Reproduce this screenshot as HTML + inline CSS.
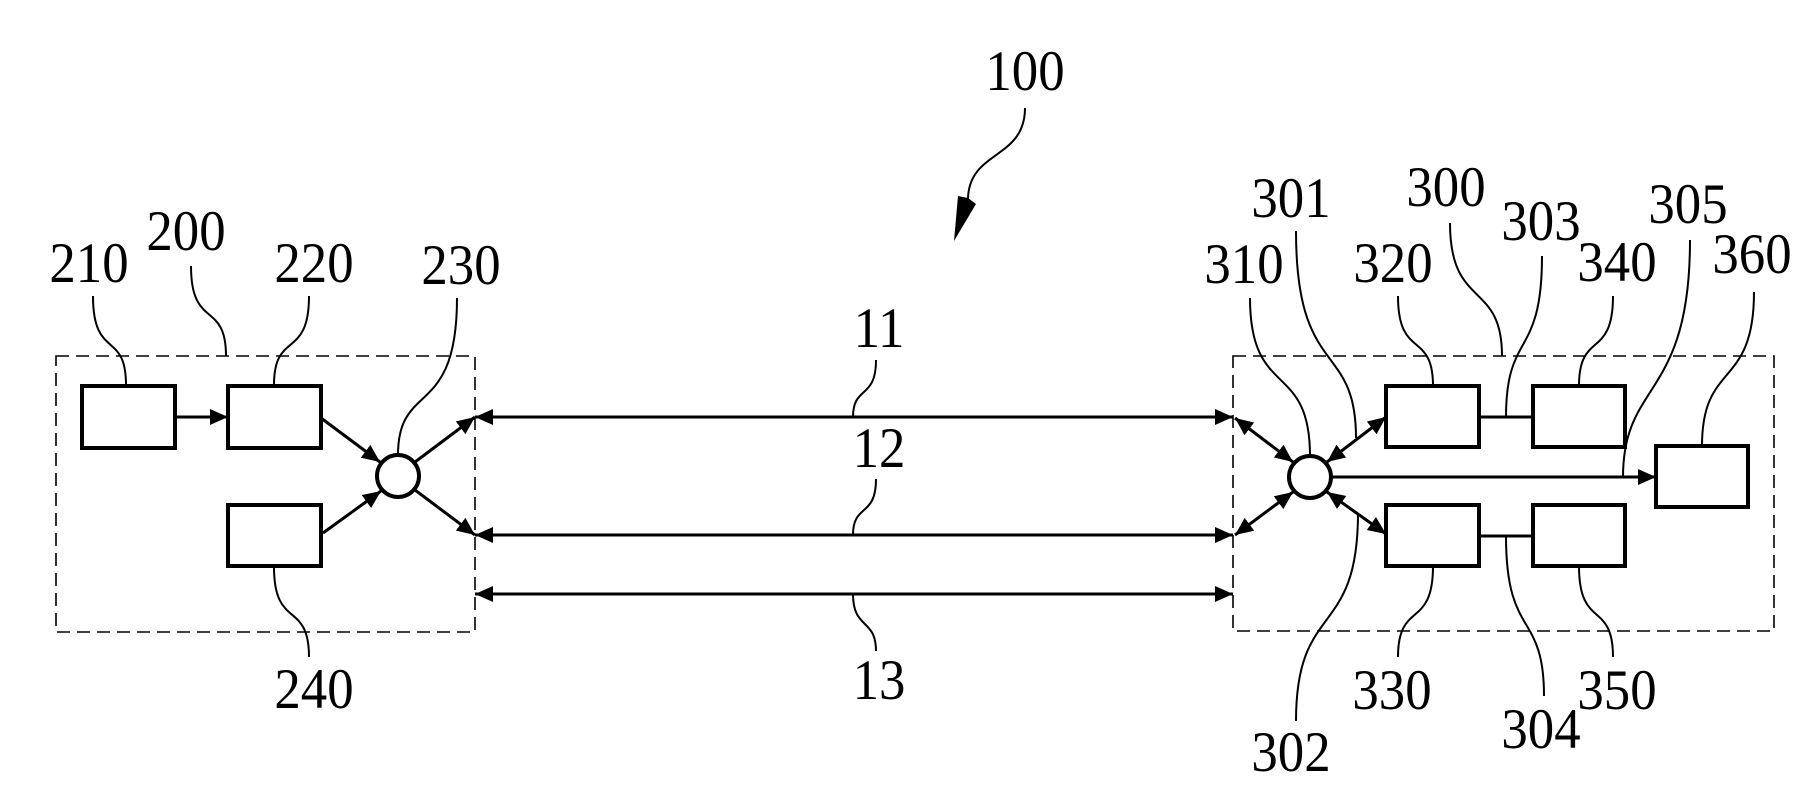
<!DOCTYPE html>
<html><head><meta charset="utf-8"><style>
html,body{margin:0;padding:0;background:#fff;}
svg{display:block;}
text{font-family:"Liberation Serif",serif;font-size:48px;fill:#000;}
</style></head><body>
<svg width="1803" height="804" viewBox="0 0 1803 804" xmlns="http://www.w3.org/2000/svg">
<defs>
<marker id="a" markerUnits="userSpaceOnUse" markerWidth="20" markerHeight="16" refX="18" refY="8" orient="auto-start-reverse">
<path d="M0,0 L18,8 L0,16 Z" fill="#000"/></marker>
</defs>
<g fill="none" stroke="#000">
<rect x="56" y="356" width="419" height="276" stroke-width="1.6" stroke-dasharray="13,7"/>
<rect x="1233" y="356" width="541" height="275" stroke-width="1.6" stroke-dasharray="13,7"/>
<g stroke-width="4">
<rect x="82" y="386" width="93" height="62"/>
<rect x="228" y="386" width="93" height="62"/>
<rect x="228" y="505" width="93" height="61"/>
<rect x="1386" y="386" width="93" height="61"/>
<rect x="1533" y="386" width="92" height="61"/>
<rect x="1386" y="505" width="93" height="61"/>
<rect x="1533" y="505" width="92" height="61"/>
<rect x="1656" y="446" width="92" height="61"/>
<circle cx="398" cy="476" r="21"/>
<circle cx="1310" cy="477" r="21"/>
</g>
<g stroke-width="3">
<line x1="175" y1="417" x2="228" y2="417" marker-end="url(#a)"/>
<line x1="321" y1="418" x2="380" y2="462" marker-end="url(#a)"/>
<line x1="323" y1="533" x2="381" y2="491" marker-end="url(#a)"/>
<line x1="415" y1="462" x2="475" y2="417" marker-end="url(#a)"/>
<line x1="415" y1="490" x2="475" y2="535" marker-end="url(#a)"/>
<line x1="475" y1="417" x2="1233" y2="417" marker-start="url(#a)" marker-end="url(#a)"/>
<line x1="475" y1="535" x2="1233" y2="535" marker-start="url(#a)" marker-end="url(#a)"/>
<line x1="475" y1="594" x2="1233" y2="594" marker-start="url(#a)" marker-end="url(#a)"/>
<line x1="1235" y1="418" x2="1293" y2="462" marker-start="url(#a)" marker-end="url(#a)"/>
<line x1="1235" y1="535" x2="1293" y2="492" marker-start="url(#a)" marker-end="url(#a)"/>
<line x1="1327" y1="462" x2="1386" y2="417" marker-start="url(#a)" marker-end="url(#a)"/>
<line x1="1327" y1="492" x2="1386" y2="534" marker-start="url(#a)" marker-end="url(#a)"/>
<line x1="1331" y1="477" x2="1656" y2="477" marker-end="url(#a)"/>
<line x1="1479" y1="417" x2="1533" y2="417"/>
<line x1="1479" y1="536" x2="1533" y2="536"/>
</g>
<g stroke-width="2">
<path d="M1025,108 C1025,160 968,150 968,200"/>
<path d="M93,296 C93,360 126,330 126,385"/>
<path d="M191,266 C191,330 226,300 226,356"/>
<path d="M309,296 C309,360 274,330 274,385"/>
<path d="M457,298 C457,420 398,380 398,455"/>
<path d="M274,567 C274,630 309,600 309,657"/>
<path d="M876,360 C876,400 853,385 853,417"/>
<path d="M876,479 C876,518 853,503 853,535"/>
<path d="M853,594 C853,630 876,618 876,651"/>
<path d="M1250,298 C1250,400 1310,360 1310,456"/>
<path d="M1296,231 C1296,380 1356,340 1356,438"/>
<path d="M1398,296 C1398,360 1433,330 1433,386"/>
<path d="M1450,223 C1450,310 1502,280 1502,356"/>
<path d="M1542,256 C1542,360 1506,330 1506,417"/>
<path d="M1613,296 C1613,360 1579,330 1579,386"/>
<path d="M1690,240 C1690,400 1623,380 1623,477"/>
<path d="M1754,292 C1754,390 1702,360 1702,446"/>
<path d="M1433,566 C1433,630 1398,600 1398,657"/>
<path d="M1506,536 C1506,640 1544,610 1544,696"/>
<path d="M1579,566 C1579,630 1613,600 1613,657"/>
<path d="M1358,513 C1358,640 1296,600 1296,721"/>
</g>
</g>
<path d="M968,198 L958,196 L954,241 L976,204 Z" fill="#000"/>
<g text-anchor="middle">
<text transform="translate(1025,90) scale(1.1,1.2)">100</text>
<text transform="translate(879,347) scale(1.1,1.2)">11</text>
<text transform="translate(879,467) scale(1.1,1.2)">12</text>
<text transform="translate(879,699) scale(1.1,1.2)">13</text>
<text transform="translate(89,282) scale(1.1,1.2)">210</text>
<text transform="translate(186,250) scale(1.1,1.2)">200</text>
<text transform="translate(314,282) scale(1.1,1.2)">220</text>
<text transform="translate(461,284) scale(1.1,1.2)">230</text>
<text transform="translate(314,708) scale(1.1,1.2)">240</text>
<text transform="translate(1244,283) scale(1.1,1.2)">310</text>
<text transform="translate(1291,217) scale(1.1,1.2)">301</text>
<text transform="translate(1393,282) scale(1.1,1.2)">320</text>
<text transform="translate(1446,206) scale(1.1,1.2)">300</text>
<text transform="translate(1541,240) scale(1.1,1.2)">303</text>
<text transform="translate(1617,281) scale(1.1,1.2)">340</text>
<text transform="translate(1688,223) scale(1.1,1.2)">305</text>
<text transform="translate(1752,273) scale(1.1,1.2)">360</text>
<text transform="translate(1392,709) scale(1.1,1.2)">330</text>
<text transform="translate(1541,748) scale(1.1,1.2)">304</text>
<text transform="translate(1617,709) scale(1.1,1.2)">350</text>
<text transform="translate(1291,771) scale(1.1,1.2)">302</text>
</g>
</svg>
</body></html>
